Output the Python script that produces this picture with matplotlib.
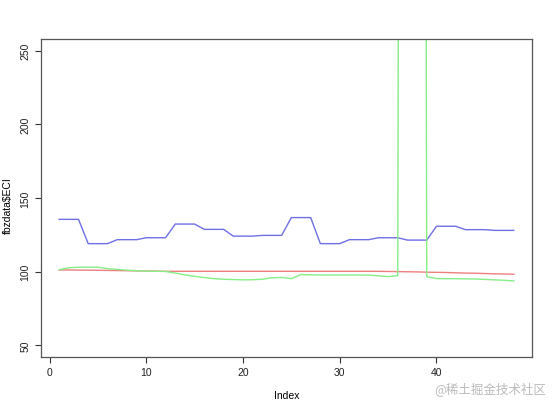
import matplotlib
matplotlib.use("Agg")
import matplotlib.pyplot as plt
import numpy as np

#Series values (index 1..48)
index = np.arange(1, 49)

eci_blue = [135.5, 135.5, 135.5, 119.0, 119.0, 119.0, 121.7, 121.7, 121.7,
            123.0, 123.0, 123.0, 132.3, 132.3, 132.3, 128.7, 128.7, 128.7,
            124.1, 124.1, 124.1, 124.6, 124.6, 124.6, 136.7, 136.7, 136.7,
            119.0, 119.0, 119.0, 121.7, 121.7, 121.7, 123.0, 123.0, 123.0,
            121.4, 121.4, 121.4, 130.8, 130.8, 130.8, 128.5, 128.5, 128.5,
            128.0, 128.0, 128.0]

eci_red = [101.1, 101.1, 101.0, 101.0, 100.9, 100.8, 100.7, 100.6, 100.5,
           100.4, 100.3, 100.2, 100.2, 100.2, 100.2, 100.2, 100.2, 100.2,
           100.2, 100.2, 100.2, 100.2, 100.2, 100.2, 100.2, 100.2, 100.2,
           100.2, 100.2, 100.2, 100.2, 100.2, 100.2, 100.2, 100.1, 100.0,
           99.9, 99.8, 99.6, 99.5, 99.4, 99.2, 99.0, 98.9, 98.7,
           98.5, 98.4, 98.2]

eci_green = [101.3, 102.6, 103.0, 103.0, 103.0, 102.0, 101.5, 101.0, 100.6,
             100.3, 100.2, 100.1, 99.0, 97.8, 96.8, 96.0, 95.2, 94.8,
             94.6, 94.4, 94.5, 94.8, 95.8, 96.0, 95.2, 98.0, 97.8,
             97.7, 97.7, 97.7, 97.7, 97.7, 97.6, 97.2, 96.6, 97.3,
             3000.0, 3000.0, 96.6, 95.3, 95.2, 95.2, 95.1, 95.0, 94.7,
             94.4, 94.1, 93.7]

x_ticks = [0, 10, 20, 30, 40]
y_ticks = [50, 100, 150, 200, 250]

plt.rcParams['font.family'] = ['Liberation Sans', 'DejaVu Sans']

fig = plt.figure(figsize=(5.54, 4.10), dpi=100)
ax = fig.add_axes([41/554, 1 - 358/410, (532-41)/554, (358-40)/410])

ax.plot(index, eci_blue, color='#6f6fe6', linewidth=1.0)
ax.plot(index, eci_red, color='#ee7f7f', linewidth=1.0)
ax.plot(index, eci_green, color='#86ee86', linewidth=1.0)

#R style axes: 4% padding, ticks out, rotated y labels
ax.set_xlim(1 - 0.04*47, 48 + 0.04*47)
ax.set_ylim(50 - 0.04*200, 250 + 0.04*200)
ax.set_xticks(x_ticks)
ax.set_yticks(y_ticks)
ax.tick_params(direction='out', length=4, width=0.8, colors='#333333',
               labelsize=7.5, labelcolor='#222222')
for lab in ax.get_yticklabels():
    lab.set_rotation(90)
    lab.set_va('center')
for spine in ax.spines.values():
    spine.set_color('#555555')
    spine.set_linewidth(0.9)

ax.set_xlabel('Index', fontsize=7.5, labelpad=9)
ax.set_ylabel(r'fbzdata\$ECI', fontsize=7.5)
ax.yaxis.set_label_coords(-0.057, 0.48)

#Watermark
fig.text(0.985, 0.05, '@稀土掘金技术社区', ha='right', va='center',
         fontsize=9, color='#bbbbbb', family=['Noto Sans CJK SC', 'DejaVu Sans'])

fig.savefig('out.png', dpi=100)
